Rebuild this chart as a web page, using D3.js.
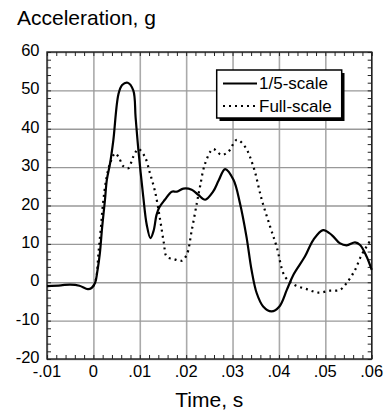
<!DOCTYPE html>
<html>
<head>
<meta charset="utf-8">
<script src="https://cdn.jsdelivr.net/npm/d3@7"></script>
<style>
  body { margin: 0; background: #fff; }
  text { font-family: "Liberation Sans", Arial, Helvetica, sans-serif; fill: #000; }
</style>
</head>
<body>
<div id="chart"></div>
<script>
// time in ms, acceleration in g
const scaleTimes = [-10, -7, -5, -3, -1.2, -0.4, 0.35, 0.9, 1.4, 1.9, 2.5, 2.9, 3.6, 4.3, 5.4, 6.2, 7.4, 8.6, 9.1, 9.7,
  10.75, 11.5, 12.3, 13, 13.6, 14.2, 15.4, 16.9, 18, 19.4, 21.2, 22.6, 24.1, 25.8, 27, 28.4, 30.2, 31.6, 33, 34.1,
  35.2, 36.6, 38.4, 40.1, 41.7, 43.1, 45.6, 47.4, 49.5, 51.4, 53.1, 54.6, 56.4, 57.5, 58.9, 60];
const scaleValues = [-1, -0.8, -0.6, -0.9, -1.8, -1.5, -0.2, 3.2, 7.6, 14.5, 21.5, 26.7, 31, 37, 49, 51.4, 52, 50, 43, 34.5,
  22.3, 15, 11.5, 13.5, 17.5, 19.5, 21.5, 23.6, 23.6, 24.4, 24.1, 22.8, 21.5, 23.6, 26.5, 29.5, 26.7, 20.6, 11.9, 3.2,
  -2.8, -6.3, -7.6, -6.3, -2, 1.9, 6.7, 11, 13.6, 12.3, 10.2, 9.6, 10.4, 9.7, 6.7, 3.2];

const fullTimes = [0, 0.6, 1.1, 1.6, 2.1, 2.8, 3.6, 4.7, 5.5, 6.4, 7.5, 8.6, 9.7, 11.1, 12.2, 13.3, 14.4, 15.2, 15.8, 17.4,
  19, 20.1, 21.2, 22.3, 23, 24.1, 25.8, 27.6, 29.1, 30.9, 32.7, 34.5, 36.3, 38.1, 39.5, 41.3, 43.4, 46, 48.5, 51,
  53.1, 54.6, 56.4, 57.8, 58.9, 60];
const fullValues = [-1, 1, 7.6, 14, 20.8, 27, 31, 33.6, 32.5, 30.3, 29.7, 32.7, 34.7, 32.7, 28.4, 23.6, 16.2, 10.2, 6.7, 6,
  5.6, 7.1, 13.5, 20.6, 25, 31, 34.7, 33.2, 34, 37.1, 35.3, 30.1, 21.5, 14.5, 9.3, 1.5, -0.7, -1.8, -2.7, -2.2,
  -2, -0.2, 3.2, 7.1, 9.3, 11.5];

const xTicks = [-0.01, 0, 0.01, 0.02, 0.03, 0.04, 0.05, 0.06];
const xTickLabels = ['-.01', '0', '.01', '.02', '.03', '.04', '.05', '.06'];
const yTicks = [-20, -10, 0, 10, 20, 30, 40, 50, 60];
const legendLabels = ['1/5-scale', 'Full-scale'];

const width = 391, height = 420;
const plot = {left: 47, right: 371.7, top: 52, bottom: 359};

const svg = d3.select('#chart').append('svg')
  .attr('width', width)
  .attr('height', height);

const x = d3.scaleLinear().domain([-0.01, 0.06]).range([plot.left, plot.right]);
const y = d3.scaleLinear().domain([-20, 60]).range([plot.bottom, plot.top]);

const pw = plot.right - plot.left;
const ph = plot.bottom - plot.top;

// grid lines
const grid = svg.append('g').attr('class', 'grid');
grid.append('g')
  .attr('transform', `translate(0, ${plot.bottom})`)
  .call(d3.axisBottom(x).tickValues(xTicks).tickSize(-ph).tickFormat(''))
  .call(g => g.select('.domain').remove())
  .call(g => g.selectAll('line').attr('stroke', '#aaa').attr('stroke-width', 1.6));
grid.append('g')
  .attr('transform', `translate(${plot.left}, 0)`)
  .call(d3.axisLeft(y).tickValues(yTicks).tickSize(-pw).tickFormat(''))
  .call(g => g.select('.domain').remove())
  .call(g => g.selectAll('line').attr('stroke', '#999').attr('stroke-width', 1.3));

// inward ticks on all four sides
const xMinor = d3.range(-0.01, 0.0601, 0.002);
const yMinor = d3.range(-20, 60.1, 2);
const ticks = svg.append('g').attr('class', 'ticks');
ticks.append('g')
  .attr('transform', `translate(0, ${plot.bottom})`)
  .call(d3.axisTop(x).tickValues(xMinor).tickSize(4).tickFormat(''))
  .call(g => g.select('.domain').remove());
ticks.append('g')
  .attr('transform', `translate(0, ${plot.top})`)
  .call(d3.axisBottom(x).tickValues(xMinor).tickSize(4).tickFormat(''))
  .call(g => g.select('.domain').remove());
ticks.append('g')
  .attr('transform', `translate(${plot.left}, 0)`)
  .call(d3.axisRight(y).tickValues(yMinor).tickSize(4).tickFormat(''))
  .call(g => g.select('.domain').remove());
ticks.append('g')
  .attr('transform', `translate(${plot.right}, 0)`)
  .call(d3.axisLeft(y).tickValues(yMinor).tickSize(4).tickFormat(''))
  .call(g => g.select('.domain').remove());
ticks.selectAll('line').attr('stroke', '#222');

// frame
svg.append('rect')
  .attr('x', plot.left)
  .attr('y', plot.top)
  .attr('width', pw)
  .attr('height', ph)
  .attr('fill', 'none')
  .attr('stroke', '#222')
  .attr('stroke-width', 1.4);

// tick labels
svg.append('g')
  .selectAll('text')
  .data(yTicks)
  .enter()
  .append('text')
  .attr('x', 39.5)
  .attr('y', d => y(d) + 4)
  .attr('text-anchor', 'end')
  .style('font-size', '16.5px')
  .text(d => d);

svg.append('g')
  .selectAll('text')
  .data(xTicks)
  .enter()
  .append('text')
  .attr('x', d => x(d))
  .attr('y', 377)
  .attr('text-anchor', 'middle')
  .style('font-size', '16.5px')
  .text((d, i) => xTickLabels[i]);

// axis titles
svg.append('text')
  .attr('x', 17)
  .attr('y', 25)
  .style('font-size', '21px')
  .text('Acceleration, g');

svg.append('text')
  .attr('x', (plot.left + plot.right) / 2)
  .attr('y', 407)
  .attr('text-anchor', 'middle')
  .style('font-size', '21px')
  .text('Time, s');

// curves
const line = d3.line()
  .x(d => x(d[0] / 1000))
  .y(d => y(d[1]))
  .curve(d3.curveCatmullRom);

const scaleData = d3.zip(scaleTimes, scaleValues);
const fullData = d3.zip(fullTimes, fullValues);

svg.append('path')
  .datum(fullData)
  .attr('d', line)
  .attr('fill', 'none')
  .attr('stroke', '#000')
  .attr('stroke-width', 2.2)
  .attr('stroke-dasharray', '2,4');

svg.append('path')
  .datum(scaleData)
  .attr('d', line)
  .attr('fill', 'none')
  .attr('stroke', '#000')
  .attr('stroke-width', 2.2);

// legend with drop shadow
const legend = svg.append('g').attr('class', 'legend');
legend.append('rect')
  .attr('x', 219.5)
  .attr('y', 73)
  .attr('width', 125)
  .attr('height', 48)
  .attr('fill', '#000');
legend.append('rect')
  .attr('x', 216.7)
  .attr('y', 70)
  .attr('width', 125)
  .attr('height', 48)
  .attr('fill', '#fff')
  .attr('stroke', '#000')
  .attr('stroke-width', 1.5);

const rows = legend.selectAll('g.row')
  .data(legendLabels)
  .enter()
  .append('g')
  .attr('class', 'row')
  .attr('transform', (d, i) => `translate(0, ${83.5 + i * 22.5})`);

rows.append('line')
  .attr('x1', 223)
  .attr('x2', 257)
  .attr('y1', 0)
  .attr('y2', 0)
  .attr('stroke', '#000')
  .attr('stroke-width', 2.2)
  .attr('stroke-dasharray', (d, i) => i === 1 ? '2,4' : null);

rows.append('text')
  .attr('x', 259)
  .attr('y', 5.5)
  .style('font-size', '17px')
  .text(d => d);
</script>
</body>
</html>
